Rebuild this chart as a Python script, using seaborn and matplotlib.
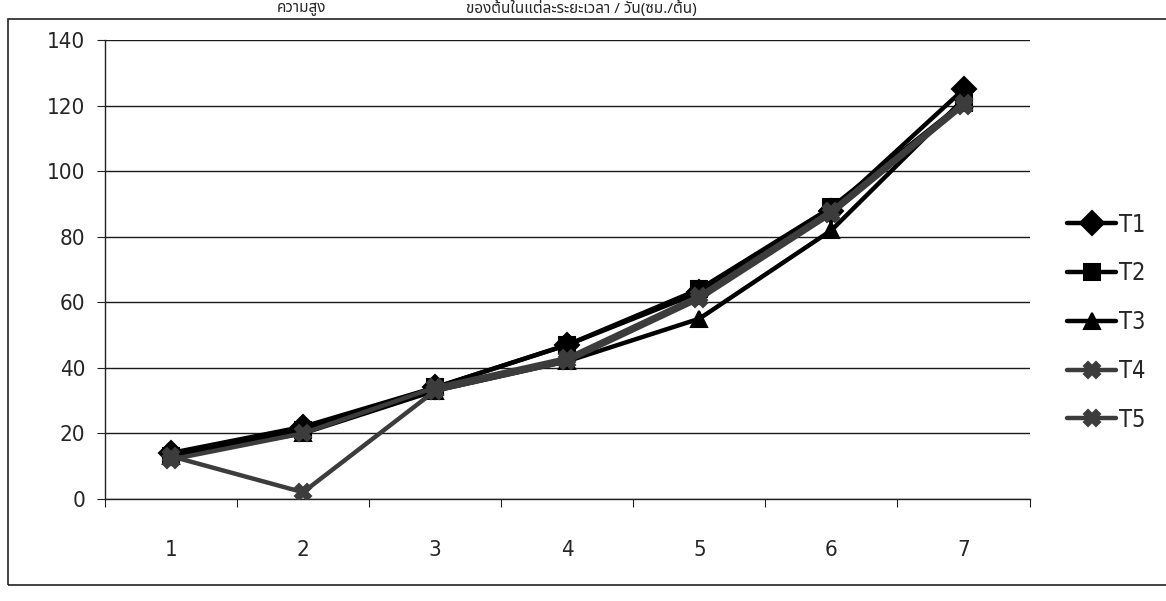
import numpy as np
import pandas as pd
import matplotlib
matplotlib.use("Agg")
import matplotlib.pyplot as plt
import seaborn as sns
from matplotlib.patches import Rectangle

# ---- data ----
days = [1, 2, 3, 4, 5, 6, 7]
series_names = ["T1", "T2", "T3", "T4", "T5"]
t1 = [14, 22, 34, 47, 63, 88, 125]
t2 = [13, 21, 34, 47, 64, 89, 121]
t3 = [13, 20, 33, 42, 55, 82, 122]
t4 = [12, 20, 34, 43, 62, 88, 121]
t5 = [13, 2, 33, 42, 61, 87, 120]
y_ticks = [0, 20, 40, 60, 80, 100, 120, 140]
title_left = "ความสูง"
title_right = "ของต้นในแต่ละระยะเวลา / วัน(ซม./ต้น)"

df = pd.DataFrame({
    "day": days * 5,
    "height": t1 + t2 + t3 + t4 + t5,
    "series": sum([[s] * len(days) for s in series_names], []),
})

sns.set_theme(style="white")
plt.rcParams["font.family"] = ["DejaVu Sans"]
plt.rcParams["font.stretch"] = "condensed"

fig = plt.figure(figsize=(11.66, 6.01), dpi=100)
ax = fig.add_axes([0.090, 0.170, 0.793, 0.763])

palette = {"T1": "#000000", "T2": "#000000", "T3": "#000000",
           "T4": "#3c3c3c", "T5": "#3c3c3c"}
markers = {"T1": "D", "T2": "s", "T3": "^", "T4": "X", "T5": "X"}

sns.lineplot(data=df, x="day", y="height", hue="series", style="series",
             palette=palette, markers=markers, dashes=False, linewidth=3.2,
             markersize=12, markeredgewidth=1.5, ax=ax, legend="full",
             zorder=3)
for line in ax.get_lines():
    line.set_markeredgecolor(line.get_color())

ax.set_xlim(0.5, 7.5)
ax.set_ylim(0, 140)
ax.set_yticks(y_ticks)
ax.set_yticklabels([str(v) for v in y_ticks], fontsize=16)
ax.set_xticks(np.arange(0.5, 8.0, 1.0))
ax.set_xticklabels([])
ax.set_xticks(days, minor=True)
ax.set_xticklabels([str(d) for d in days], minor=True, fontsize=16)
ax.tick_params(axis="x", which="major", direction="out", length=6, width=0.8,
               color="#222222", bottom=True)
ax.tick_params(axis="x", which="minor", length=0, pad=30, bottom=True)
ax.tick_params(axis="y", direction="out", length=6, width=0.8,
               color="#222222", left=True, pad=8)
ax.grid(True, axis="y", color="#1a1a1a", linewidth=1.0)
ax.set_axisbelow(True)
for side in ["top", "right"]:
    ax.spines[side].set_visible(False)
for side in ["left", "bottom"]:
    ax.spines[side].set_color("#222222")
    ax.spines[side].set_linewidth(1.0)
ax.set_xlabel("")
ax.set_ylabel("")

leg = ax.legend(loc="center left", bbox_to_anchor=(0.915, 0.464),
                bbox_transform=fig.transFigure, frameon=False, fontsize=17,
                labelspacing=1.05, handlelength=2.1, handletextpad=0.1,
                borderpad=0, borderaxespad=0)
for h in leg.legend_handles:
    h.set_linewidth(3.2)
    h.set_markersize(12)
    h.set_markeredgecolor(h.get_color())

# outer chart border
fig.patches.append(Rectangle((0.007, 0.027), 1.0, 0.942,
                             transform=fig.transFigure, fill=False,
                             edgecolor="#222222", linewidth=1.2))

# caption at top
thai_fonts = ["Noto Sans Thai", "Noto Sans Thai Looped", "Loma", "Garuda",
              "Norasi", "Tlwg Typist", "Waree", "Sawasdee", "Kinnari",
              "Noto Sans", "DejaVu Sans"]
fig.text(0.28, 0.998, title_left, ha="right", va="top", fontsize=11,
         family=thai_fonts)
fig.text(0.40, 0.998, title_right, ha="left", va="top", fontsize=11,
         family=thai_fonts)

fig.savefig("out.png", dpi=100)
